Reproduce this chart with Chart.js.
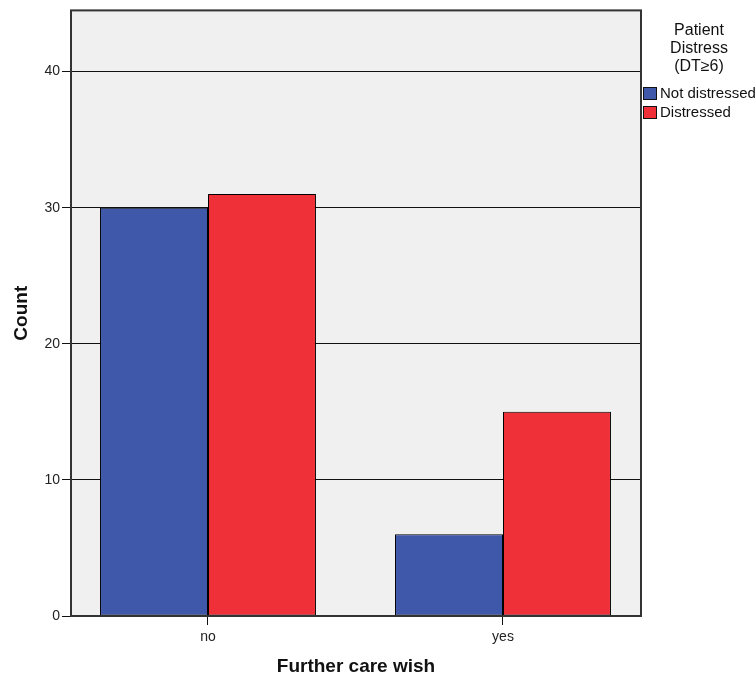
<!DOCTYPE html>
<html lang="en">
<head>
    <meta charset="UTF-8">
    <title>Further care wish by patient distress</title>
    <script src="https://cdn.jsdelivr.net/npm/chart.js"></script>
    <style>
        body {
            margin: 0;
            background: #fff;
        }
        .chart-container {
            position: relative;
            width: 756px;
            height: 679px;
        }
    </style>
</head>
<body>
    <div class="chart-container">
        <canvas id="careChart"></canvas>
    </div>

    <script>
        // data
        const categories = ['no', 'yes'];
        const notDistressed = [30, 6];
        const distressed = [31, 15];
        const seriesNames = ['Not distressed', 'Distressed'];
        const legendTitle = ['Patient', 'Distress', '(DT\u22656)'];
        const yTicks = [0, 10, 20, 30, 40];

        const FONT = 'Arial, "Liberation Sans", sans-serif';

        // categories sit on a numeric x axis so the outer margins can match SPSS
        const toPoints = vals => vals.map((v, i) => ({ x: i, y: v }));

        // plot frame, background and legend drawn by hand (SPSS style)
        const frame = {
            id: 'frame',
            beforeDraw(chart) {
                const a = chart.chartArea, ctx = chart.ctx;
                ctx.save();
                ctx.fillStyle = '#f0f0f0';
                ctx.fillRect(a.left, a.top, a.right - a.left, a.bottom - a.top);
                ctx.restore();
            },
            afterDraw(chart) {
                const a = chart.chartArea, ctx = chart.ctx;
                ctx.save();
                ctx.strokeStyle = '#333';
                ctx.lineWidth = 2;
                ctx.strokeRect(a.left, a.top, a.right - a.left, a.bottom - a.top);

                // legend
                const cx = 699;
                ctx.fillStyle = '#111';
                ctx.font = '16px ' + FONT;
                ctx.textAlign = 'center';
                ctx.textBaseline = 'middle';
                legendTitle.forEach((t, i) => ctx.fillText(t, cx, 31 + i * 18));

                ctx.font = '15px ' + FONT;
                ctx.textAlign = 'left';
                chart.data.datasets.forEach((ds, i) => {
                    const y = 93 + i * 19;
                    ctx.fillStyle = ds.backgroundColor;
                    ctx.fillRect(643, y - 6, 14, 13);
                    ctx.strokeStyle = '#111';
                    ctx.lineWidth = 1;
                    ctx.strokeRect(643.5, y - 5.5, 13, 12);
                    ctx.fillStyle = '#111';
                    ctx.fillText(ds.label, 660, y + 1);
                });
                ctx.restore();
            }
        };

        const ctx = document.getElementById('careChart').getContext('2d');
        new Chart(ctx, {
            type: 'bar',
            data: {
                datasets: [{
                    label: seriesNames[0],
                    data: toPoints(notDistressed),
                    backgroundColor: '#3f58aa',
                    borderColor: '#000',
                    borderWidth: 1,
                    borderSkipped: false
                }, {
                    label: seriesNames[1],
                    data: toPoints(distressed),
                    backgroundColor: '#f03039',
                    borderColor: '#000',
                    borderWidth: 1,
                    borderSkipped: false
                }]
            },
            options: {
                responsive: true,
                maintainAspectRatio: false,
                animation: false,
                layout: { padding: { top: 9, right: 115, left: 0, bottom: 0 } },
                plugins: {
                    legend: { display: false },
                    tooltip: { enabled: false }
                },
                datasets: {
                    bar: { categoryPercentage: 0.732, barPercentage: 1 }
                },
                scales: {
                    x: {
                        type: 'linear',
                        offset: false,
                        min: -0.4644,
                        max: 1.4678,
                        afterBuildTicks(scale) {
                            scale.ticks = categories.map((c, i) => ({ value: i }));
                        },
                        grid: {
                            offset: false,
                            drawOnChartArea: false,
                            drawTicks: true,
                            tickLength: 9,
                            color: '#111'
                        },
                        border: { display: false },
                        ticks: {
                            color: '#222',
                            font: { family: FONT, size: 14 },
                            padding: 4,
                            callback: v => categories[v]
                        },
                        title: {
                            display: true,
                            text: 'Further care wish',
                            color: '#111',
                            font: { family: FONT, size: 19, weight: 'bold' },
                            padding: { top: 4, bottom: 1 }
                        },
                        afterFit(scale) { scale.height = 63; }
                    },
                    y: {
                        min: 0,
                        max: 44.5,
                        afterBuildTicks(scale) {
                            scale.ticks = yTicks.map(v => ({ value: v }));
                        },
                        grid: {
                            color: '#111',
                            lineWidth: 1,
                            tickLength: 9
                        },
                        border: { display: false },
                        ticks: { color: '#222', font: { family: FONT, size: 14 }, padding: 2 },
                        title: {
                            display: true,
                            text: 'Count',
                            color: '#111',
                            font: { family: FONT, size: 19, weight: 'bold' },
                            padding: { top: 10, bottom: 0 }
                        },
                        afterFit(scale) { scale.width = 71; }
                    }
                }
            },
            plugins: [frame]
        });
    </script>
</body>
</html>
